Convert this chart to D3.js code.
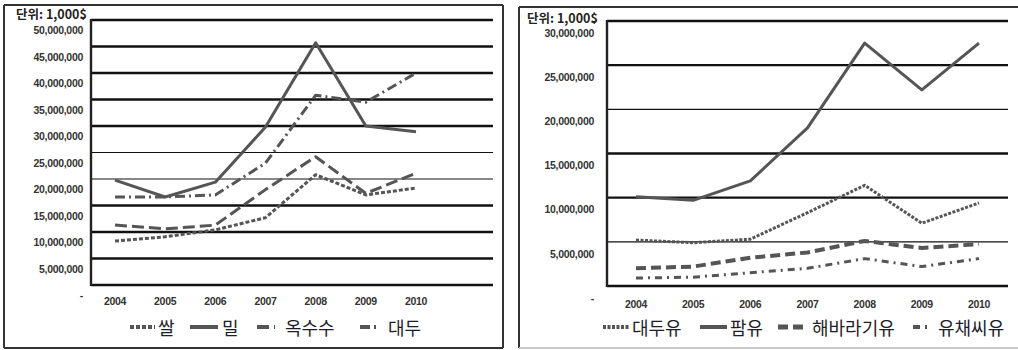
<!DOCTYPE html>
<html>
<head>
<meta charset="utf-8">
<script src="https://cdn.jsdelivr.net/npm/d3@7"></script>
<style>
  html, body { margin: 0; padding: 0; background: #fff; }
  svg { display: block; }
  .tick-label { font-family: "Liberation Sans Narrow", "Liberation Sans", Arial, sans-serif; font-size: 10.5px; font-weight: bold; fill: #333; letter-spacing: -0.3px; }
  .unit { font-family: "Noto Sans CJK KR", "Liberation Sans", sans-serif; font-size: 12.5px; font-weight: bold; fill: #222; }
  .legend-text { font-family: "Noto Sans CJK KR", sans-serif; font-size: 18px; fill: #1e1e2a; }
</style>
</head>
<body>
<svg id="chart" width="1018" height="350"></svg>
<script>
// Years on the horizontal axis (shared by both panels)
const years = ["2004", "2005", "2006", "2007", "2008", "2009", "2010"];

// Grain imports, unit 1,000$
const grainNames = ["쌀", "밀", "옥수수", "대두"];
const rice    = [8300000, 9100000, 10400000, 12700000, 20800000, 17000000, 18300000];
const wheat   = [19800000, 16600000, 19400000, 29800000, 45700000, 30000000, 28900000];
const corn    = [11300000, 10600000, 11300000, 18000000, 24200000, 17300000, 21100000];
const soybean = [16600000, 16600000, 17000000, 23000000, 35800000, 34500000, 40000000];
const grainTicks = [0, 5000000, 10000000, 15000000, 20000000, 25000000, 30000000, 35000000, 40000000, 45000000, 50000000];

// Vegetable oil imports, unit 1,000$
const oilNames = ["대두유", "팜유", "해바라기유", "유채씨유"];
const soyOil       = [5200000, 4900000, 5300000, 8300000, 11400000, 7100000, 9400000];
const palmOil      = [10100000, 9700000, 11900000, 17900000, 27500000, 22200000, 27500000];
const sunflowerOil = [2000000, 2200000, 3200000, 3800000, 5100000, 4300000, 4750000];
const rapeseedOil  = [900000, 1000000, 1500000, 2000000, 3100000, 2200000, 3100000];
const oilTicks = [0, 5000000, 10000000, 15000000, 20000000, 25000000, 30000000];

const unitLabel = "단위: 1,000$";

const svg = d3.select("#chart");
const lineColor = "#555";
const fmt = d3.format(",");

// Line styles for the four series of each panel
const grainStyles = [
  { dash: "4,2",        width: 3 },
  { dash: null,         width: 3 },
  { dash: "12,5",       width: 3 },
  { dash: "10,4,2,4",   width: 3 }
];
const oilStyles = [
  { dash: "3,1.5",      width: 3 },
  { dash: null,         width: 3 },
  { dash: "10,5",       width: 4 },
  { dash: "7,5,2,5",    width: 3 }
];

function drawPanel(cfg) {
  const g = svg.append("g");

  // outer frame
  g.append("line").attr("x1", cfg.frame.x0).attr("x2", cfg.frame.x0)
    .attr("y1", cfg.frame.y0).attr("y2", cfg.frame.y1)
    .attr("stroke", "#333").attr("stroke-width", 2);
  g.append("line").attr("x1", cfg.frame.x0).attr("x2", cfg.frame.x1)
    .attr("y1", cfg.frame.y0).attr("y2", cfg.frame.y0)
    .attr("stroke", "#333").attr("stroke-width", 2);
  g.append("line").attr("x1", cfg.frame.x0).attr("x2", cfg.frame.x1)
    .attr("y1", cfg.frame.y1).attr("y2", cfg.frame.y1)
    .attr("stroke", cfg.frame.bottomColor).attr("stroke-width", 2);
  if (cfg.frame.right) {
    g.append("line").attr("x1", cfg.frame.x1).attr("x2", cfg.frame.x1)
      .attr("y1", cfg.frame.y0).attr("y2", cfg.frame.y1)
      .attr("stroke", "#333").attr("stroke-width", 2);
  }

  const x = d3.scalePoint().domain(years).range(cfg.xRange);
  const y = d3.scaleLinear().domain([0, d3.max(cfg.ticks)]).range(cfg.yRange);

  // horizontal gridlines
  g.selectAll("line.grid").data(cfg.ticks).join("line")
    .attr("class", "grid")
    .attr("x1", cfg.plotLeft).attr("x2", cfg.plotRight)
    .attr("y1", d => y(d)).attr("y2", d => y(d))
    .attr("stroke", "#111")
    .attr("stroke-width", d => cfg.thinGrid.includes(d) ? 1.2 : 2.4);

  // vertical value axis line
  g.append("line").attr("x1", cfg.plotLeft).attr("x2", cfg.plotLeft)
    .attr("y1", y(d3.max(cfg.ticks)) - 1).attr("y2", y(0) + 1)
    .attr("stroke", "#222").attr("stroke-width", 2.4);

  // value labels (sit slightly below their gridline)
  g.selectAll("text.ytick").data(cfg.ticks).join("text")
    .attr("class", "tick-label")
    .attr("x", cfg.labelX)
    .attr("y", d => y(d) + cfg.labelDy)
    .attr("text-anchor", "end")
    .attr("dominant-baseline", "middle")
    .text(d => d === 0 ? "-" : fmt(d));

  // year labels
  g.selectAll("text.xtick").data(years).join("text")
    .attr("class", "tick-label")
    .attr("x", d => x(d))
    .attr("y", cfg.yearY)
    .attr("text-anchor", "middle")
    .attr("dominant-baseline", "middle")
    .text(d => d);

  // unit caption
  g.append("text").attr("class", "unit")
    .attr("x", cfg.unitX).attr("y", cfg.unitY)
    .attr("dominant-baseline", "middle")
    .text(unitLabel);

  // series lines
  const line = d3.line().x((d, i) => x(years[i])).y(d => y(d));
  cfg.series.forEach((s, i) => {
    const st = cfg.styles[i];
    g.append("path").datum(s)
      .attr("d", line)
      .attr("fill", "none")
      .attr("stroke", lineColor)
      .attr("stroke-width", st.width)
      .attr("stroke-linejoin", "round")
      .attr("stroke-dasharray", st.dash);
  });

  // legend
  cfg.names.forEach((name, i) => {
    const st = cfg.styles[i];
    const item = cfg.legend[i];
    g.append("line")
      .attr("x1", item.x0).attr("x2", item.x1)
      .attr("y1", cfg.legendY).attr("y2", cfg.legendY)
      .attr("stroke", lineColor)
      .attr("stroke-width", st.width + 1)
      .attr("stroke-dasharray", st.dash);
    g.append("text").attr("class", "legend-text")
      .attr("x", item.tx).attr("y", cfg.legendY)
      .attr("dominant-baseline", "central")
      .text(name);
  });
}

drawPanel({
  frame: { x0: 4, x1: 503, y0: 5, y1: 348, right: true, bottomColor: "#333" },
  plotLeft: 91, plotRight: 493,
  xRange: [115, 416], yRange: [285, 20],
  ticks: grainTicks, thinGrid: [20000000, 25000000],
  labelX: 83, labelDy: 11.5, yearY: 302,
  unitX: 16, unitY: 16,
  series: [rice, wheat, corn, soybean],
  styles: grainStyles,
  names: grainNames,
  legendY: 327,
  legend: [
    { x0: 130, x1: 155, tx: 158 },
    { x0: 190, x1: 218, tx: 222 },
    { x0: 257, x1: 275, tx: 285 },
    { x0: 360, x1: 379, tx: 388 }
  ]
});

drawPanel({
  frame: { x0: 519, x1: 1030, y0: 7, y1: 348, right: false, bottomColor: "#c8c8c8" },
  plotLeft: 607, plotRight: 1008,
  xRange: [636, 979], yRange: [286, 21],
  ticks: oilTicks, thinGrid: [5000000, 20000000],
  labelX: 594, labelDy: 13, yearY: 305,
  unitX: 527, unitY: 20,
  series: [soyOil, palmOil, sunflowerOil, rapeseedOil],
  styles: oilStyles,
  names: oilNames,
  legendY: 327,
  legend: [
    { x0: 603, x1: 630, tx: 632 },
    { x0: 700, x1: 727, tx: 730 },
    { x0: 778, x1: 808, tx: 812 },
    { x0: 913, x1: 931, tx: 938 }
  ]
});
</script>
</body>
</html>
